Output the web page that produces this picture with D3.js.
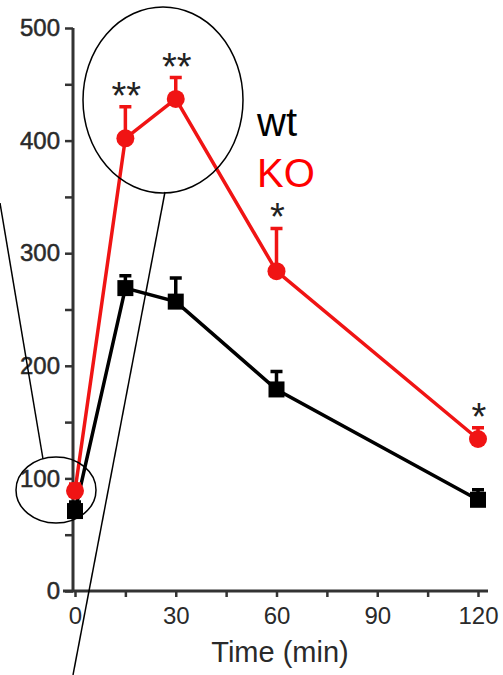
<!DOCTYPE html>
<html>
<head>
<meta charset="utf-8">
<script src="https://cdn.jsdelivr.net/npm/d3@7"></script>
<style>
  html, body { margin: 0; padding: 0; background: #fff; }
  svg { display: block; }
  text { font-family: "Liberation Sans", Arial, sans-serif; }
</style>
</head>
<body>
<svg id="chart" width="503" height="675"></svg>
<script>
// Time points (min)
const times = [0, 15, 30, 60, 120];
// wild-type means and SEM
const wtMean = [71, 269, 257, 179, 81];
const wtErr  = [8, 11, 21, 16, 9];
// knockout means and SEM
const koMean = [89, 402, 437, 284, 135];
const koErr  = [6, 28, 19, 38, 10];
// significance marks above KO points
const stars  = ["", "**", "**", "*", "*"];
// axis ticks
const xTicks = [0, 30, 60, 90, 120];
const yTicks = [0, 100, 200, 300, 400, 500];

const svg = d3.select("#chart");
const x = d3.scaleLinear().domain([0, 120]).range([75, 478]);
const y = d3.scaleLinear().domain([0, 500]).range([591, 28]);

// axes
const xAxis = d3.axisBottom(x).tickValues(d3.range(0, 121, 15)).tickSize(6).tickPadding(4)
  .tickFormat(d => xTicks.includes(d) ? d : "");
const gx = svg.append("g").attr("transform", "translate(0,591)").call(xAxis);
gx.select(".domain").attr("d", "M63,0H488").attr("stroke", "#333").attr("stroke-width", 3);
gx.selectAll(".tick line").attr("stroke", "#333").attr("stroke-width", 2.5);
gx.selectAll(".tick text").attr("font-size", 24).attr("fill", "#2a2a2a").attr("dy", "0.95em");

const yAxis = d3.axisLeft(y).tickValues(d3.range(0, 501, 50)).tickSize(8).tickPadding(5)
  .tickFormat(d => yTicks.includes(d) ? d : "");
const gy = svg.append("g").attr("transform", "translate(73,0)").call(yAxis);
gy.select(".domain").attr("d", "M0,28V591").attr("stroke", "#333").attr("stroke-width", 3);
gy.selectAll(".tick line").attr("stroke", "#333").attr("stroke-width", 2.5);
gy.selectAll(".tick text").attr("font-size", 24).attr("fill", "#2a2a2a").attr("stroke", "#2a2a2a").attr("stroke-width", 0.5);

svg.append("text").attr("x", 280).attr("y", 662).attr("text-anchor", "middle")
  .attr("font-size", 29).attr("fill", "#2a2a2a").text("Time (min)");

function series(mean, err, color, shape) {
  const pts = times.map((t, i) => ({ t, m: mean[i], e: err[i] }));
  const g = svg.append("g");
  g.append("path").datum(pts)
    .attr("d", d3.line().x(d => x(d.t)).y(d => y(d.m)))
    .attr("fill", "none").attr("stroke", color).attr("stroke-width", 3.5);
  g.selectAll(".eb").data(pts).enter().append("path")
    .attr("d", d => `M${x(d.t)},${y(d.m)}V${y(d.m + d.e)}M${x(d.t) - 6},${y(d.m + d.e)}H${x(d.t) + 6}`)
    .attr("stroke", color).attr("stroke-width", 3.5).attr("fill", "none");
  if (shape === "square") {
    g.selectAll(".mk").data(pts).enter().append("rect")
      .attr("x", d => x(d.t) - 8).attr("y", d => y(d.m) - 8)
      .attr("width", 16).attr("height", 16).attr("fill", color);
  } else {
    g.selectAll(".mk").data(pts).enter().append("circle")
      .attr("cx", d => x(d.t)).attr("cy", d => y(d.m)).attr("r", 9).attr("fill", color);
  }
}
series(wtMean, wtErr, "#000", "square");
series(koMean, koErr, "#f01414", "circle");

// significance asterisks
svg.selectAll(".star").data(times.map((t, i) => ({ t, s: stars[i], top: koMean[i] + koErr[i] })))
  .enter().append("text")
  .attr("x", d => x(d.t) + 1).attr("y", d => y(d.top) + 2)
  .attr("text-anchor", "middle").attr("font-size", 38).attr("fill", "#222")
  .text(d => d.s);

// legend
svg.append("text").attr("x", 257).attr("y", 136).attr("font-size", 40).attr("fill", "#000").text("wt");
svg.append("text").attr("x", 257).attr("y", 187).attr("font-size", 40).attr("fill", "#f00").text("KO");

// zoom-in annotation: ellipses with connecting lines
const ann = svg.append("g").attr("fill", "none").attr("stroke", "#000").attr("stroke-width", 1.5);
ann.append("ellipse").attr("cx", 163).attr("cy", 100).attr("rx", 80).attr("ry", 93);
ann.append("ellipse").attr("cx", 56).attr("cy", 490).attr("rx", 40).attr("ry", 33);
ann.append("line").attr("x1", 0).attr("y1", 203).attr("x2", 43).attr("y2", 459);
ann.append("line").attr("x1", 165).attr("y1", 192).attr("x2", 73).attr("y2", 675);
</script>
</body>
</html>
